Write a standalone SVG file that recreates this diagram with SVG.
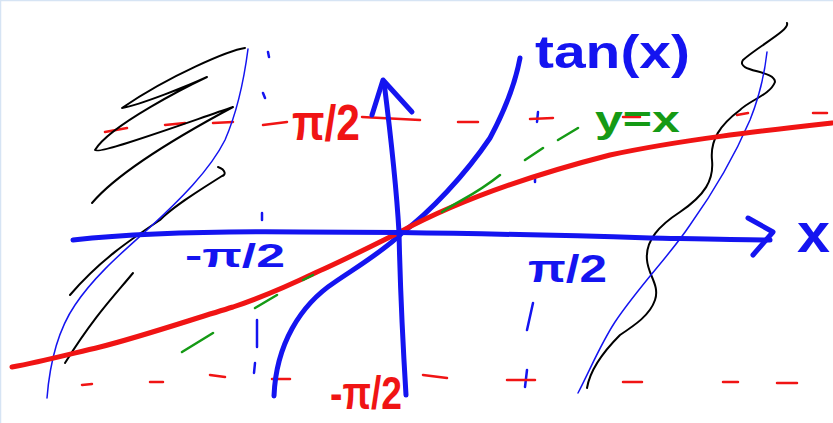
<svg xmlns="http://www.w3.org/2000/svg" width="833" height="423" viewBox="0 0 833 423">
<style>
.b{fill:none;stroke:#1414f0;stroke-linecap:round;stroke-linejoin:round}
.r{fill:none;stroke:#f01414;stroke-linecap:round;stroke-linejoin:round}
.k{fill:none;stroke:#000;stroke-width:2;stroke-linecap:round;stroke-linejoin:round}
.g{fill:none;stroke:#159a15;stroke-width:2.5;stroke-linecap:round}
.thick{stroke-width:5}
.thin{stroke-width:1.5}
.dash{stroke-width:2.5}
text{font-family:"Liberation Sans",Arial,sans-serif;font-weight:bold}
.tb{fill:#1414f0}.tr{fill:#f01414}.tg{fill:#159a15}
</style>
<rect x="0" y="0" width="833" height="423" fill="#fff"/>
<path d="M0.5,423 V0.5 H833" fill="none" stroke="#d6e4f4" stroke-width="1.5"/>

<g id="asymptotes">
<g class="b dash">
<path d="M268,52 L269,57 M263,93 L265,98 M262,213 L262,220 M257,320 L257,347 M255,363 L254,373"/>
<path d="M538,112 L537,122 M535,178 L535,182 M533,303 L527,330 M527,370 L525,387"/>
</g>
<g class="r dash">
<path d="M105,132 L127,128 M165,125 L185,123 M213,123 L233,122 M263,125 L287,122 M362,117 L420,120 M458,122 L478,122 M530,119 L553,118 M623,117 L640,117 M737,115 L748,113 M813,113 L827,113"/>
<path d="M82,385 L92,384 M150,382 L163,382 M210,375 L225,377 M272,379 L290,379 M423,375 L447,378 M507,380 L535,380 M623,382 L642,382 M723,382 L738,382 M777,383 L797,383"/>
</g>
</g>

<g id="sketch-black">
<path class="k" d="M245,48 C230,50 170,75 122,108 C140,105 190,85 207,77 C190,85 110,125 95,150 C98,155 180,125 233,107 C190,130 120,170 92,203"/>
<path class="k" d="M218,167 C226,170 226,175 222,176 C200,190 175,205 160,220 C130,240 100,260 70,295"/>
<path class="k" d="M133,273 C115,295 95,315 65,363"/>
<path class="k" d="M787,23 C790,30 760,45 743,60 C735,72 775,70 775,82 C770,95 750,100 740,110 C720,125 710,140 712,160 C714,180 705,195 680,212 C660,225 645,240 647,260 C648,275 660,285 655,300 C650,315 635,325 620,335 C605,350 590,370 587,388"/>
</g>

<g id="tan-branches">
<path class="b thin" d="M47,398 C50,360 58,330 75,305 C95,275 125,250 147,230 C180,200 210,170 225,140 C238,110 244,80 248,49"/>
<path class="b thin" d="M578,393 C590,370 600,345 615,322 C640,285 670,255 690,225 C715,190 735,155 750,120 C760,95 765,70 767,52"/>
<path class="b thick" d="M274,396 C276,345 300,305 335,282 C360,265 385,250 402,233 C430,212 465,175 490,138 C505,110 515,85 520,58"/>
</g>

<g id="arctan">
<path class="r thick" d="M12,367 C40,362 70,354 100,347 C140,337 190,320 233,307 C260,298 290,285 317,272 C340,262 370,247 400,232 C450,205 520,178 610,155 C680,140 760,131 832,123"/>
</g>

<g id="line-y-equals-x">
<path class="g" d="M182,352 L213,333 M255,308 L277,295 M303,280 L313,275 M442,212 C460,200 475,195 500,175 M525,160 L543,148 M558,140 L578,128"/>
</g>

<g id="axes">
<path class="b thick" d="M73,240 C120,235 200,231 300,232 C400,232 550,235 650,238 C700,239 740,240 770,240"/>
<path class="b thick" d="M748,218 L773,232 L753,255"/>
<path class="b thick" d="M406,395 C402,330 400,280 399,232 C396,180 390,130 384,82"/>
<path class="b thick" d="M372,115 L383,80 L412,112"/>
</g>

<g id="labels">
<text class="tb" x="535" y="68" font-size="46" textLength="155" lengthAdjust="spacingAndGlyphs">tan(x)</text>
<text class="tg" x="595" y="132" font-size="36" textLength="85" lengthAdjust="spacingAndGlyphs">y=x</text>
<text class="tb" x="797" y="252" font-size="56" textLength="33" lengthAdjust="spacingAndGlyphs">x</text>
<text class="tb" x="185" y="267" font-size="34" textLength="100" lengthAdjust="spacingAndGlyphs">-π/2</text>
<text class="tb" x="528" y="282" font-size="38" textLength="79" lengthAdjust="spacingAndGlyphs">π/2</text>
<text class="tr" x="292" y="140" font-size="50" textLength="68" lengthAdjust="spacingAndGlyphs">π/2</text>
<text class="tr" x="330" y="409" font-size="46" textLength="72" lengthAdjust="spacingAndGlyphs">-π/2</text>
</g>
</svg>
